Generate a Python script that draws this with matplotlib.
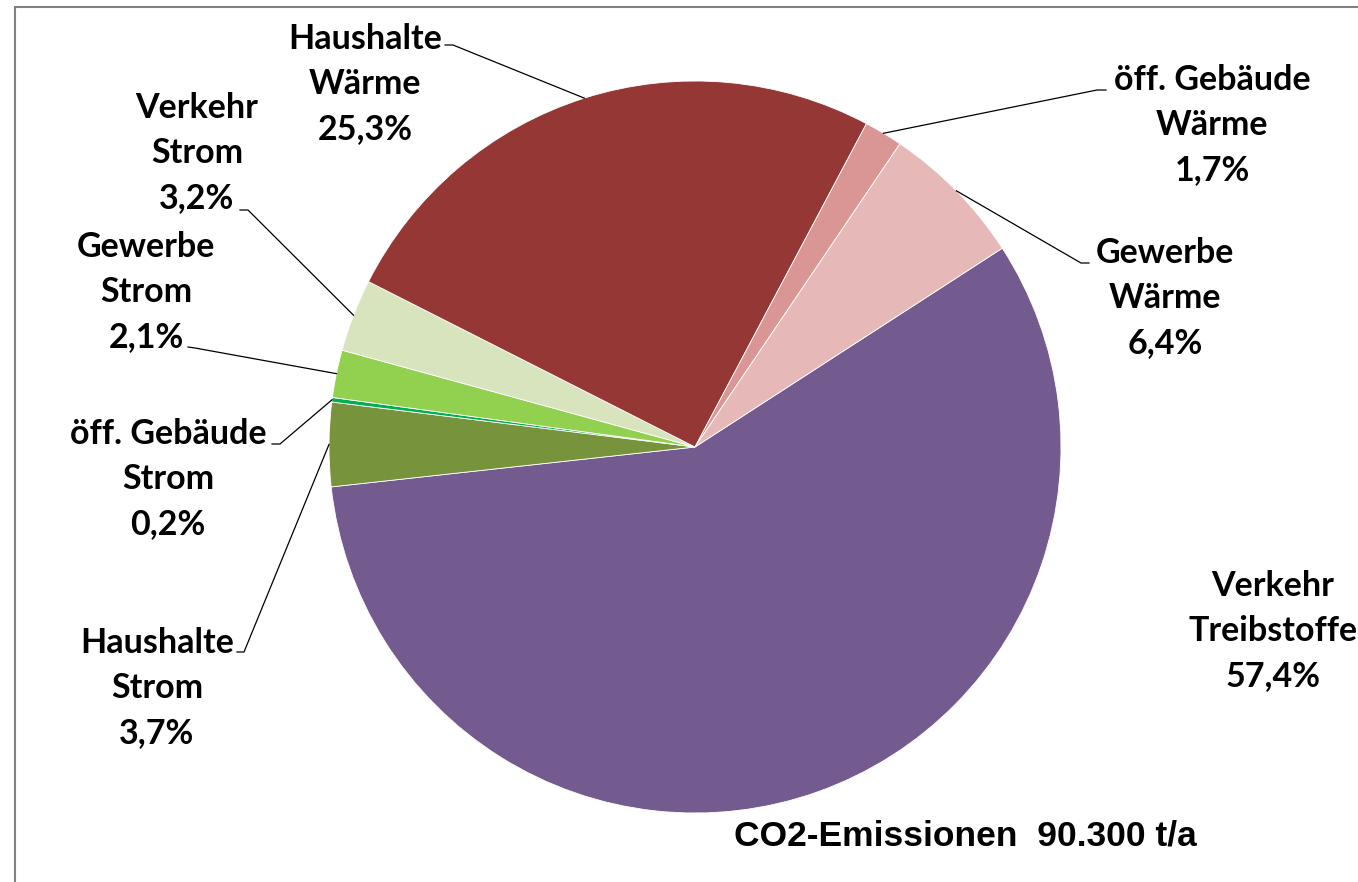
import numpy as np
import matplotlib.pyplot as plt
from matplotlib.patches import Rectangle

# slices, clockwise from the Treibstoffe wedge
labels = ["Verkehr\nTreibstoffe", "Haushalte\nStrom", "öff. Gebäude\nStrom", "Gewerbe\nStrom",
          "Verkehr\nStrom", "Haushalte\nWärme", "öff. Gebäude\nWärme", "Gewerbe\nWärme"]
shares = [57.4, 3.7, 0.2, 2.1, 3.2, 25.3, 1.7, 6.4]
colors = ["#735A8F", "#77933C", "#00B050", "#92D050", "#D7E4BD", "#953735", "#D99694", "#E6B9B8"]
title = "CO2-Emissionen  90.300 t/a"

W, H = 1358, 882
cx, cy, R = 695, 447, 366  # pie centre / radius in pixels
start = 32.9


def px(x, y):
    return (x - cx) / R, (cy - y) / R


fig = plt.figure(figsize=(W / 100, H / 100), dpi=100)
ax = fig.add_axes([0, 0, 1, 1])
ax.axis("off")

wedges, _ = ax.pie(shares, colors=colors, startangle=start, counterclock=False,
                   radius=1, wedgeprops=dict(edgecolor="white", linewidth=0.6))
ax.set_aspect("auto")
ax.set_xlim(-cx / R, (W - cx) / R)
ax.set_ylim((cy - H) / R, cy / R)

# label block centres (px) and leader anchors (px) next to the text, None = no line
label_pos = [(1273, 631), (157, 688), (168, 479), (146, 292),
             (197, 153), (365, 84), (1212, 125), (1165, 298)]
anchors = [None, [(237, 652), (244, 652)], [(272, 444), (280, 444)], [(188, 347), (195, 348)],
           [(240, 210), (248, 210)], [(445, 45), (453, 45)], [(1106, 90), (1097, 90)],
           [(1089, 263), (1081, 263)]]

font = ["Lato", "DejaVu Sans"]
for lab, s, (lx, ly), anc, w in zip(labels, shares, label_pos, anchors, wedges):
    txt = lab + "\n" + f"{s:.1f}%".replace(".", ",")
    x, y = px(lx, ly)
    ax.text(x, y, txt, ha="center", va="center", fontsize=24.5, fontweight="bold",
            family=font, linespacing=1.5)
    if anc is None:
        continue
    mid = np.deg2rad((w.theta1 + w.theta2) / 2)
    ex, ey = np.cos(mid), np.sin(mid)
    pts = [px(*p) for p in anc] + [(ex, ey)]
    ax.plot([p[0] for p in pts], [p[1] for p in pts], color="black", lw=0.9)

x, y = px(965, 836)
ax.text(x, y, title, ha="center", va="center", fontsize=25.5, fontweight="bold",
        family=["Liberation Sans", "DejaVu Sans"])

# chart frame (right and bottom edges fall outside the image)
fig.patches.append(Rectangle((14.5 / W, -0.1), 1.2, 1 - 6.5 / H + 0.1, transform=fig.transFigure,
                             fill=False, edgecolor="#808080", linewidth=1.5))

fig.savefig("out.png", dpi=100)
